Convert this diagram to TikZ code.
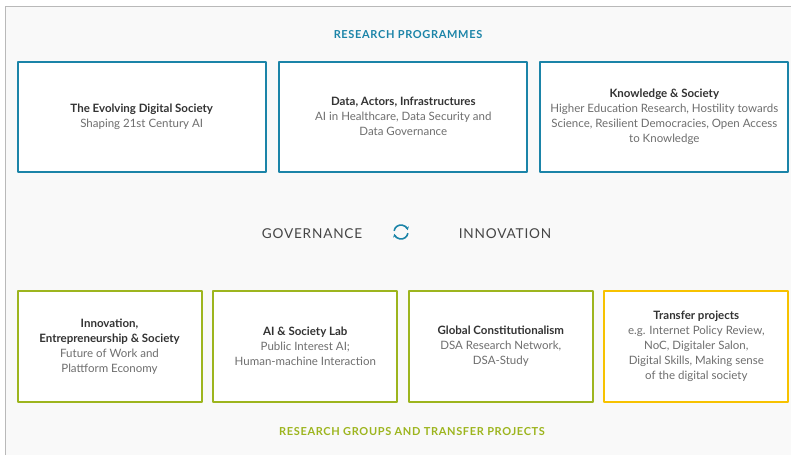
\documentclass[tikz,border=0pt]{standalone}
\usepackage{fontspec}
\setmainfont{Lato}
\newfontfamily\spacedfont[LetterSpace=6]{Lato}
\usetikzlibrary{arrows.meta}
\definecolor{progblue}{HTML}{1B84A8}
\definecolor{groupgreen}{HTML}{9DB51E}
\definecolor{transferyellow}{HTML}{F7C200}
\definecolor{bgcol}{HTML}{F9F9F9}
\definecolor{framecol}{HTML}{B9B9B9}
\definecolor{titlecol}{HTML}{333333}
\definecolor{subcol}{HTML}{6E6E6E}
\definecolor{wordcol}{HTML}{454545}
\newcommand{\ttl}[1]{{\bfseries\color{titlecol}#1}}
\begin{document}
\begin{tikzpicture}[x=1pt, y=-1pt, line join=round, >={Stealth[length=3.5pt,width=4pt]},
  panel/.style={draw, line width=2pt, fill=white, inner sep=0pt, align=center, text=subcol, font=\fontsize{11.5}{15}\selectfont},
  progbox/.style={panel, draw=progblue, minimum width=248pt, minimum height=110pt},
  groupbox/.style={panel, draw=groupgreen, minimum width=184pt, minimum height=111pt},
  transferbox/.style={groupbox, draw=transferyellow},
  heading/.style={font=\spacedfont\bfseries\fontsize{11}{13}\selectfont},
  axisword/.style={text=wordcol, font=\spacedfont\fontsize{13.6}{15}\selectfont}]
  \useasboundingbox (0,0) rectangle (791,455);
  \fill[bgcol] (5,6) rectangle (791,455);
  \draw[framecol] (5,455)--(5,6)--(791,6);
  \node[heading, text=progblue] (progs) at (408,35) {RESEARCH PROGRAMMES};
  \node[progbox] (eds) at (141.7,116.7) {\ttl{The Evolving Digital Society}\\Shaping 21st Century AI};
  \node[progbox] (dai) at (403.3,116.7) {\ttl{Data, Actors, Infrastructures}\\AI in Healthcare, Data Security and\\Data Governance};
  \node[progbox] (ks) at (664.3,116.7) {\ttl{Knowledge \& Society}\\Higher Education Research, Hostility towards\\Science, Resilient Democracies, Open Access\\to Knowledge};
  \node[axisword] (gov) at (312,233.5) {GOVERNANCE};
  \node[axisword] (inno) at (505,233.5) {INNOVATION};
  \coordinate (swap) at (401,232);
  \draw[progblue, line width=1.6pt, ->] ([shift={(190:7)}]swap) arc (190:345:7);
  \draw[progblue, line width=1.6pt, ->] ([shift={(10:7)}]swap) arc (10:165:7);
  \node[groupbox] (ies) at (109.5,346.5) {\ttl{Innovation,}\\\ttl{Entrepreneurship \& Society}\\Future of Work and\\Plattform Economy};
  \node[groupbox] (asl) at (305.3,346.5) {\ttl{AI \& Society Lab}\\Public Interest AI;\\Human-machine Interaction};
  \node[groupbox] (gc) at (500.8,346.5) {\ttl{Global Constitutionalism}\\DSA Research Network,\\DSA-Study};
  \node[transferbox] (tp) at (696.3,346.5) {\ttl{Transfer projects}\\e.g. Internet Policy Review,\\NoC, Digitaler Salon,\\Digital Skills, Making sense\\of the digital society};
  \node[heading, text=groupgreen] (groups) at (412,432) {RESEARCH GROUPS AND TRANSFER PROJECTS};
\end{tikzpicture}
\end{document}
